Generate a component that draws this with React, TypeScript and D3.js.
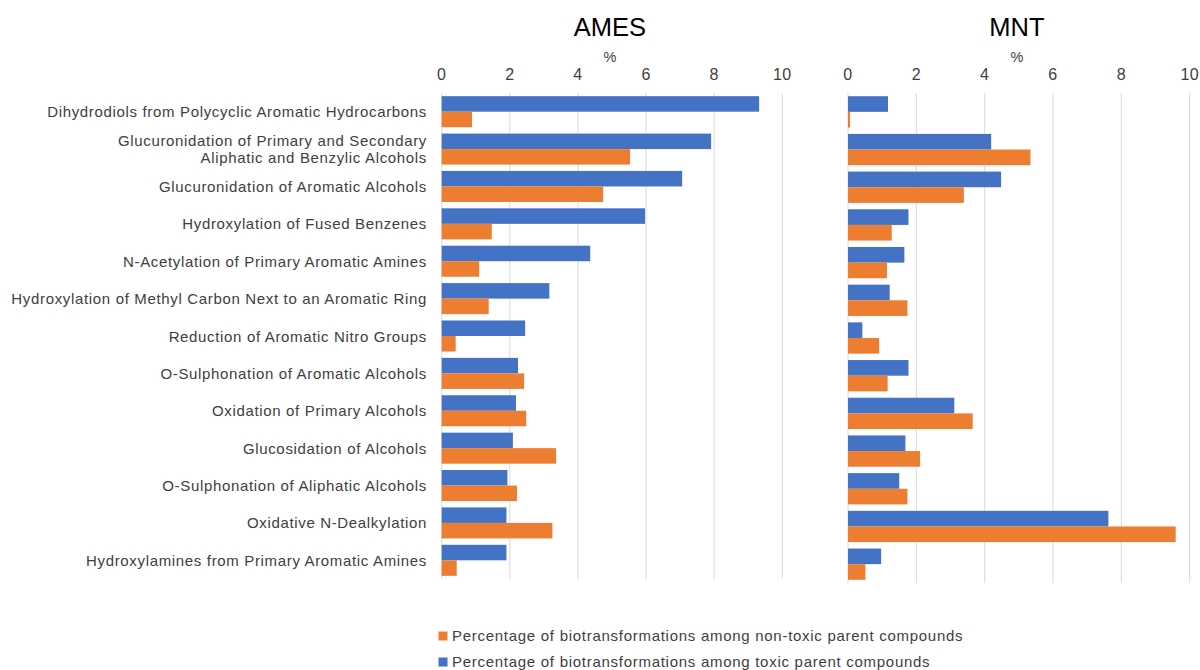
import React, { useEffect, useRef } from "react";
import * as d3 from "d3";

const categories = [
  "Dihydrodiols from Polycyclic Aromatic Hydrocarbons",
  "Glucuronidation of Primary and Secondary|Aliphatic and Benzylic Alcohols",
  "Glucuronidation of Aromatic Alcohols",
  "Hydroxylation of Fused Benzenes",
  "N-Acetylation of Primary Aromatic Amines",
  "Hydroxylation of Methyl Carbon Next to an Aromatic Ring",
  "Reduction of Aromatic Nitro Groups",
  "O-Sulphonation of Aromatic Alcohols",
  "Oxidation of Primary Alcohols",
  "Glucosidation of Alcohols",
  "O-Sulphonation of Aliphatic Alcohols",
  "Oxidative N-Dealkylation",
  "Hydroxylamines from Primary Aromatic Amines",
];

// toxic parent compounds (blue), non-toxic (orange)
const amesToxic = [9.32, 7.91, 7.06, 5.97, 4.36, 3.16, 2.45, 2.24, 2.18, 2.09, 1.93, 1.9, 1.9];
const amesNonToxic = [0.89, 5.53, 4.74, 1.47, 1.1, 1.38, 0.41, 2.42, 2.48, 3.36, 2.21, 3.25, 0.44];
const mntToxic = [1.17, 4.19, 4.48, 1.77, 1.65, 1.22, 0.42, 1.77, 3.11, 1.68, 1.5, 7.62, 0.97];
const mntNonToxic = [0.06, 5.34, 3.39, 1.28, 1.14, 1.74, 0.91, 1.16, 3.65, 2.11, 1.74, 9.59, 0.51];

const xTicks = [0, 2, 4, 6, 8, 10];
const legendLabels = [
  "Percentage of biotransformations among non-toxic parent compounds",
  "Percentage of biotransformations among toxic parent compounds",
];

const BLUE = "#4472C4";
const ORANGE = "#ED7D31";
const FONT = "'Liberation Sans', Arial, sans-serif";

const App = () => {
  const ref = useRef<SVGSVGElement>(null);

  useEffect(() => {
    const svg = d3.select(ref.current);
    svg.selectAll("*").remove();

    const panels = [
      { title: "AMES", x0: 441.7, x1: 782.3, bottom: 579, toxic: amesToxic, non: amesNonToxic },
      { title: "MNT", x0: 848, x1: 1189.7, bottom: 583, toxic: mntToxic, non: mntNonToxic },
    ];
    const top = 93;

    panels.forEach((p) => {
      const x = d3.scaleLinear().domain([0, 10]).range([p.x0, p.x1]);
      const y = d3
        .scaleBand()
        .domain(categories)
        .range([top, p.bottom])
        .paddingInner(0.17)
        .paddingOuter(0.085);
      const g = svg.append("g");

      g.selectAll("line.grid")
        .data(xTicks)
        .join("line")
        .attr("x1", (d) => x(d))
        .attr("x2", (d) => x(d))
        .attr("y1", top)
        .attr("y2", p.bottom)
        .attr("stroke", "#d9d9d9")
        .attr("stroke-width", 1);

      g.selectAll("text.tick")
        .data(xTicks)
        .join("text")
        .attr("x", (d) => x(d))
        .attr("y", 80)
        .attr("text-anchor", "middle")
        .attr("font-size", 16)
        .attr("letter-spacing", 0.4)
        .attr("font-family", FONT)
        .attr("fill", "#404040")
        .text((d) => d);

      g.append("text")
        .attr("x", (p.x0 + p.x1) / 2 - 2)
        .attr("y", 36)
        .attr("text-anchor", "middle")
        .attr("font-size", 25.5)
        .attr("font-family", FONT)
        .attr("fill", "#000")
        .text(p.title);

      g.append("text")
        .attr("x", (p.x0 + p.x1) / 2 - 2)
        .attr("y", 62)
        .attr("text-anchor", "middle")
        .attr("font-size", 14.5)
        .attr("font-family", FONT)
        .attr("fill", "#404040")
        .text("%");

      const bh = y.bandwidth() / 2;
      g.selectAll("rect.toxic")
        .data(p.toxic)
        .join("rect")
        .attr("x", x(0))
        .attr("y", (d, i) => y(categories[i])!)
        .attr("width", (d) => x(d) - x(0))
        .attr("height", bh)
        .attr("fill", BLUE);

      g.selectAll("rect.non")
        .data(p.non)
        .join("rect")
        .attr("x", x(0))
        .attr("y", (d, i) => y(categories[i])! + bh)
        .attr("width", (d) => x(d) - x(0))
        .attr("height", bh)
        .attr("fill", ORANGE);

      if (p.title === "AMES") {
        categories.forEach((c) => {
          const lines = c.split("|");
          const cy = y(c)! + y.bandwidth() / 2;
          const t = g
            .append("text")
            .attr("text-anchor", "end")
            .attr("font-size", 15)
            .attr("letter-spacing", 0.66)
            .attr("font-family", FONT)
            .attr("fill", "#404040");
          lines.forEach((l, i) => {
            t.append("tspan")
              .attr("x", 427)
              .attr("y", cy + 5.5 + (i - (lines.length - 1) / 2) * 17.5)
              .text(l);
          });
        });
      }
    });

    const leg = svg.append("g");
    legendLabels.forEach((l, i) => {
      const ly = 636 + i * 26;
      leg
        .append("rect")
        .attr("x", 438.5)
        .attr("y", ly - 4.5)
        .attr("width", 9)
        .attr("height", 9)
        .attr("fill", i === 0 ? ORANGE : BLUE);
      leg
        .append("text")
        .attr("x", 452)
        .attr("y", ly + 5)
        .attr("font-size", 15)
        .attr("letter-spacing", 0.72)
        .attr("font-family", FONT)
        .attr("fill", "#404040")
        .text(l);
    });
  }, []);

  return (
    <svg
      ref={ref}
      width={1200}
      height={670}
      style={{ position: "absolute", left: 0, top: 0, background: "#fff" }}
    />
  );
};

export default App;
